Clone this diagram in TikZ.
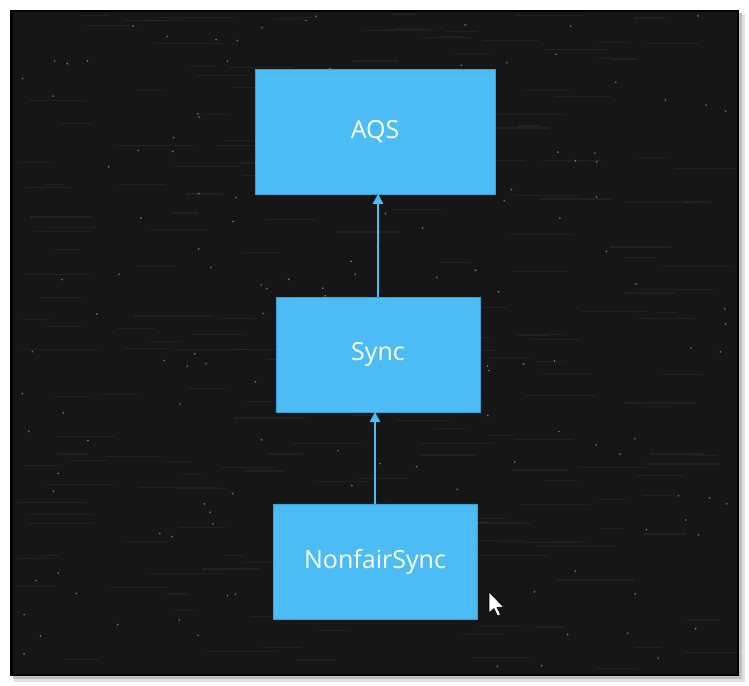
\documentclass[tikz,border=0pt]{standalone}
\usepackage{fontspec}
\setmainfont{Open Sans}
\usetikzlibrary{arrows.meta}
\definecolor{boxblue}{RGB}{76,188,246}
\definecolor{boxedge}{RGB}{60,160,215}
\definecolor{board}{RGB}{22,22,22}
\tikzset{
  classbox/.style={fill=boxblue, draw=boxedge, line width=0.8pt, text=white,
    font=\fontsize{25}{30}\selectfont, inner sep=0pt},
  inherit/.style={draw=boxblue, line width=2.6pt, -{Triangle[width=10pt,length=10pt]}, shorten >=-0.5pt},
}
\begin{document}
\begin{tikzpicture}[x=1pt,y=-1pt]
\useasboundingbox (0,0) rectangle (749,685);
\fill[white] (0,0) rectangle (749,685);
% shadow
\fill[black!12] (14,14) rectangle (745,682);
\fill[black!25] (13,13) rectangle (742,679);
% board
\fill[board] (10,10) rectangle (739,676);
\draw[black, line width=2.5pt] (11.25,11.25) rectangle (737.75,674.75);
% chalk texture
\pgfmathsetseed{11}
\foreach \i in {1,...,220}{
  \pgfmathsetmacro{\sx}{14+rnd*680}
  \pgfmathsetmacro{\sy}{14+rnd*655}
  \pgfmathsetmacro{\sl}{20+rnd*60}
  \draw[white, opacity=0.05, line width=1.2pt] (\sx,\sy) -- ++(\sl,0);
}
\foreach \i in {1,...,160}{
  \pgfmathsetmacro{\sx}{15+rnd*719}
  \pgfmathsetmacro{\sy}{15+rnd*656}
  \fill[white, opacity=0.45] (\sx,\sy) circle (0.9);
}
% class boxes
\node[classbox, minimum width=240pt, minimum height=125pt] (aqs) at (375,131.5) {\raisebox{-1.5pt}{AQS}};
\node[classbox, minimum width=204pt, minimum height=115pt] (sync) at (378,354.5) {\raisebox{-2pt}{Sync}};
\node[classbox, minimum width=204pt, minimum height=115pt] (nonfair) at (375,561.5) {\raisebox{-2pt}{NonfairSync}};
% inheritance arrows
\draw[inherit] (sync.north) -- (sync.north |- aqs.south);
\draw[inherit] (nonfair.north) -- (nonfair.north |- sync.south);
% mouse cursor
\filldraw[fill=white, draw=black, line width=0.6pt, line join=round]
  (489,592) -- (489,613) -- (494,608.5) -- (497.5,616) -- (500.5,614.5) -- (497,607.5) -- (503.5,607) -- cycle;
\end{tikzpicture}
\end{document}
